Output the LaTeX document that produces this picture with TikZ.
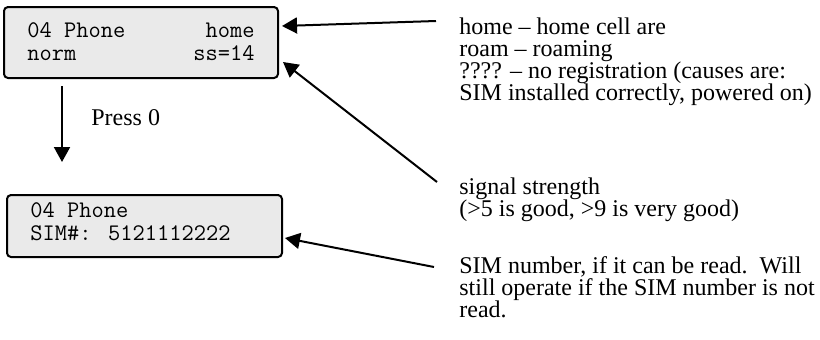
\documentclass[tikz,border=0pt]{standalone}
\usepackage{fontspec}
\setmainfont{Liberation Serif}
\usetikzlibrary{arrows.meta}
\begin{document}
\begin{tikzpicture}[x=0.5pt,y=-0.5pt,
  lcd/.style={draw=black,line width=1pt,fill=lcdgray,rounded corners=2pt},
  lcdtext/.style={inner sep=0pt,font=\fontsize{11.9}{12}\selectfont\ttfamily},
  note/.style={inner sep=0pt,align=left,anchor=north west,
    font=\fontsize{12}{11}\selectfont},
  arr/.style={line width=1pt,-{Triangle[length=7.5pt,width=8pt]}}]
\definecolor{lcdgray}{HTML}{EAEAEA}
\useasboundingbox (0,0) rectangle (820,339);

% status display
\draw[lcd] (4,7) rectangle (278,78);
\node[lcdtext,anchor=base west] (b1a) at (27,37) {04 Phone};
\node[lcdtext,anchor=base east] (b1b) at (255,37) {home};
\node[lcdtext,anchor=base west] (b1c) at (27,60) {norm};
\node[lcdtext,anchor=base east] (b1d) at (255,60) {ss=14};

% SIM display
\draw[lcd] (7,195) rectangle (282,257);
\node[lcdtext,anchor=base west] (b2a) at (30,217) {04 Phone};
\node[lcdtext,anchor=base west] (b2b) at (30,240) {SIM\#: 5121112222};

% key press step
\coordinate (ks) at (62,86);
\coordinate (ke) at (62,162);
\draw[arr] (ks) -- (ke);
\node[inner sep=0pt,anchor=base west,font=\fontsize{12}{11}\selectfont] (press) at (91,125) {Press 0};

% notes
\node[note] (n1) at (459,17) {home -- home cell are\\roam -- roaming\\???? -- no registration (causes are:\\SIM installed correctly, powered on)};
\node[note] (n2) at (459,177) {signal strength\\(>5 is good, >9 is very good)};
\node[note] (n3) at (459,256) {SIM number, if it can be read.\ \ Will\\still operate if the SIM number is not\\read.};

% pointers
\coordinate (t1) at (436,21);
\coordinate (h1) at (282,26);
\coordinate (t2) at (437,182);
\coordinate (h2) at (283,62);
\coordinate (t3) at (434,267);
\coordinate (h3) at (285,238);
\draw[arr] (t1) -- (h1);
\draw[arr] (t2) -- (h2);
\draw[arr] (t3) -- (h3);
\end{tikzpicture}
\end{document}
